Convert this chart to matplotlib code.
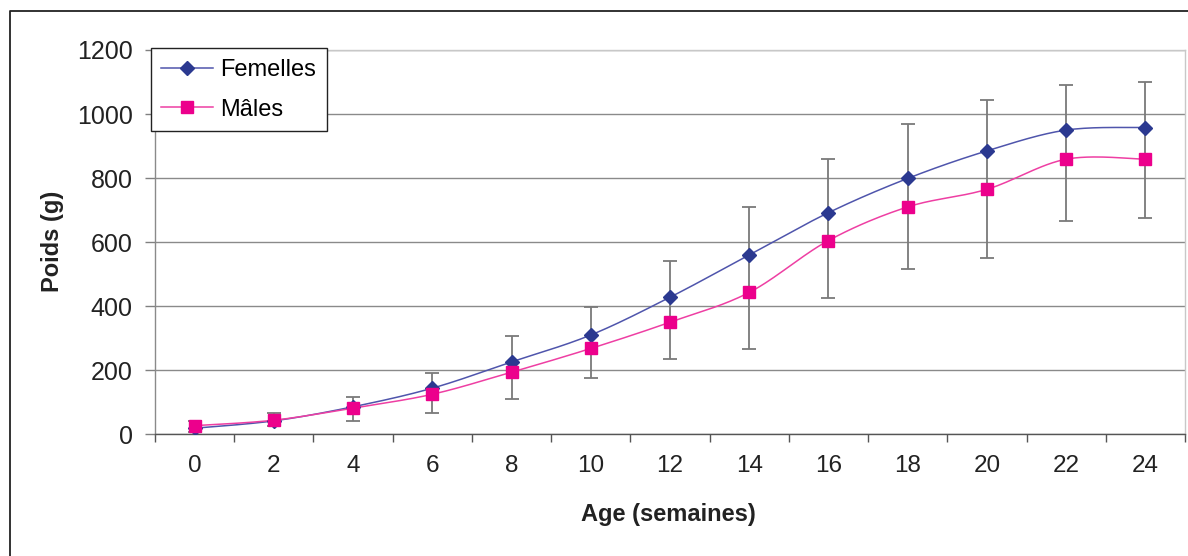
import numpy as np
import matplotlib
matplotlib.use("Agg")
import matplotlib.pyplot as plt
from matplotlib.lines import Line2D
from matplotlib.ticker import FixedLocator

plt.rcParams['font.family'] = ['Liberation Sans', 'DejaVu Sans']

# ---- data ----
ages = [0, 2, 4, 6, 8, 10, 12, 14, 16, 18, 20, 22, 24]
femelles = [19, 42, 86, 144, 226, 310, 428, 560, 692, 799, 885, 950, 958]
males = [27, 44, 82, 125, 194, 268, 350, 443, 605, 710, 765, 859, 859]
err_top = [42, 67, 117, 191, 308, 398, 541, 709, 859, 968, 1043, 1091, 1099]
err_bottom = [8, 25, 42, 66, 109, 175, 234, 267, 425, 516, 549, 666, 674]
yticks = [0, 200, 400, 600, 800, 1000, 1200]

BLUE_M = '#2B3990'
BLUE_L = '#4F55AC'
PINK_M = '#EC008C'
PINK_L = '#EE3FA3'


def excel_smooth(xs, ys, n=30):
    xs = np.asarray(xs, float)
    ys = np.asarray(ys, float)
    P = np.column_stack([xs, ys])
    m = len(P)
    out = []
    for i in range(m - 1):
        p0 = P[i - 1] if i > 0 else P[i]
        p1 = P[i]
        p2 = P[i + 1]
        p3 = P[i + 2] if i + 2 < m else P[i + 1]
        c1 = p1 + (p2 - p0) / 6.0
        c2 = p2 - (p3 - p1) / 6.0
        t = np.linspace(0, 1, n)[:, None]
        seg = ((1 - t) ** 3) * p1 + 3 * ((1 - t) ** 2) * t * c1 + 3 * (1 - t) * t ** 2 * c2 + t ** 3 * p2
        if i > 0:
            seg = seg[1:]
        out.append(seg)
    out = np.vstack(out)
    return out[:, 0], out[:, 1]


fig = plt.figure(figsize=(11.88, 5.56), dpi=100)
W, H = 1188, 556
ax = fig.add_axes([155 / W, 1 - 434.3 / H, (1185 - 155) / W, (434.3 - 50) / H])

xpos = np.arange(len(ages))
fem = np.array(femelles, float)
mal = np.array(males, float)

# error bars
ax.errorbar(xpos, fem, yerr=[fem - np.array(err_bottom), np.array(err_top) - fem],
            fmt='none', ecolor='#7a7a7a', elinewidth=1.3, capsize=5, capthick=1.3, zorder=2)

# smoothed lines
sx, sy = excel_smooth(xpos, fem)
ax.plot(sx, sy, color=BLUE_L, lw=1.1, zorder=3)
sx, sy = excel_smooth(xpos, mal)
ax.plot(sx, sy, color=PINK_L, lw=1.1, zorder=3)

ax.plot(xpos, fem, linestyle='none', marker='D', ms=7.5, color=BLUE_M, zorder=4)
ax.plot(xpos, mal, linestyle='none', marker='s', ms=8, color=PINK_M, zorder=5)

ax.set_xlim(-0.5, len(ages) - 0.5)
ax.set_ylim(0, 1200)

ax.set_yticks(yticks)
ax.yaxis.grid(True, color='#8a8a8a', lw=1.0)
ax.set_axisbelow(True)
ax.tick_params(axis='y', direction='out', length=7, width=1, color='#808080',
               pad=9, labelsize=18, labelcolor='#222222')

ax.set_xticks(xpos)
ax.set_xticklabels([str(a) for a in ages])
ax.xaxis.set_minor_locator(FixedLocator(np.arange(-0.5, len(ages), 1.0)))
ax.tick_params(axis='x', which='major', length=0, pad=15, labelsize=17.5, labelcolor='#222222')
ax.tick_params(axis='x', which='minor', direction='out', length=6, width=1, color='#555555')

ax.spines['left'].set_color('#8a8a8a')
ax.spines['bottom'].set_color('#555555')
ax.spines['top'].set_color('#c8c8c8')
ax.spines['right'].set_color('#c8c8c8')
for s in ax.spines.values():
    s.set_linewidth(1.0)

fig.text(668 / W, 1 - 515 / H, 'Age (semaines)', ha='center', va='center',
         fontsize=17, fontweight='bold', color='#222222')
fig.text(52 / W, 1 - 241 / H, 'Poids (g)', ha='center', va='center', rotation=90,
         fontsize=17, fontweight='bold', color='#222222')

handles = [
    Line2D([], [], color=BLUE_L, lw=1.1, marker='D', ms=7.5, markerfacecolor=BLUE_M, markeredgecolor=BLUE_M),
    Line2D([], [], color=PINK_L, lw=1.1, marker='s', ms=8, markerfacecolor=PINK_M, markeredgecolor=PINK_M),
]
leg = ax.legend(handles, ['Femelles', 'Mâles'], loc='upper left',
                bbox_to_anchor=(150.5 / W, 1 - 48.3 / H), bbox_transform=fig.transFigure,
                fontsize=17, frameon=True, fancybox=False, shadow=False,
                handlelength=2.2, handletextpad=0.3, borderpad=0.45,
                labelspacing=0.75, borderaxespad=0, numpoints=1)
leg.get_frame().set_edgecolor('#222222')
leg.get_frame().set_linewidth(1.0)
leg.get_frame().set_alpha(1)
leg.set_zorder(10)

# outer chart border
fig.add_artist(Line2D([9.5 / W, 9.5 / W, 1.0], [0, 1 - 11 / H, 1 - 11 / H],
                      transform=fig.transFigure, color='#222222', lw=1.3))

fig.savefig('out.png', dpi=100)
